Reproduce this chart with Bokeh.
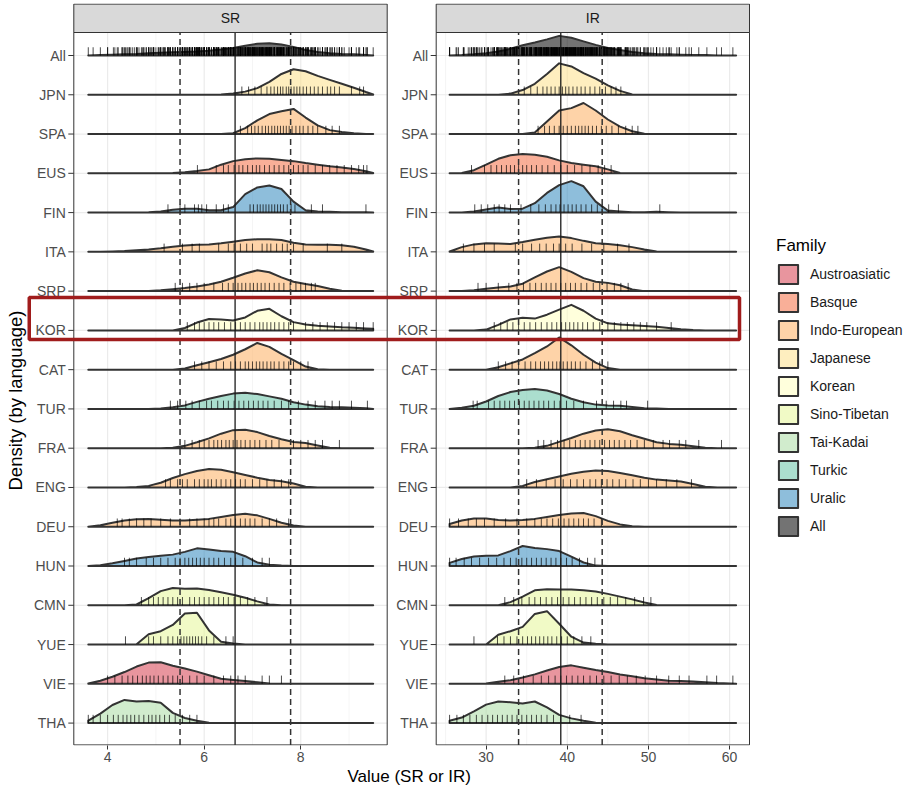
import numpy as np
from bokeh.plotting import figure
from bokeh.models import Range1d, FixedTicker, Legend, LegendItem, CustomJSTickFormatter, Title
from bokeh.core.properties import value
from bokeh.embed import file_html
from bokeh.resources import INLINE

# ---------------- data ----------------
LANGS = ["All", "JPN", "SPA", "EUS", "FIN", "ITA", "SRP", "KOR", "CAT",
         "TUR", "FRA", "ENG", "DEU", "HUN", "CMN", "YUE", "VIE", "THA"]
FAMILY_OF = ["All", "Japanese", "Indo-European", "Basque", "Uralic", "Indo-European",
             "Indo-European", "Korean", "Indo-European", "Turkic", "Indo-European",
             "Indo-European", "Indo-European", "Uralic", "Sino-Tibetan", "Sino-Tibetan",
             "Austroasiatic", "Tai-Kadai"]
FAMILIES = ["Austroasiatic", "Basque", "Indo-European", "Japanese", "Korean",
            "Sino-Tibetan", "Tai-Kadai", "Turkic", "Uralic", "All"]
FAMILY_COLORS = ["#D53E4F", "#F46D43", "#FDAE61", "#FEE08B", "#FFFFBF",
                 "#E6F598", "#ABDDA4", "#66C2A5", "#3288BD", "#000000"]
PANELS = ["SR", "IR"]

SR_X = [3.6, 3.85, 4.1, 4.35, 4.6, 4.85, 5.1, 5.35, 5.6, 5.85, 6.1, 6.35, 6.6,
        6.85, 7.1, 7.35, 7.6, 7.85, 8.1, 8.35, 8.6, 8.85, 9.1, 9.35, 9.5]
IR_X = [25.5, 27, 28.5, 30, 31.5, 33, 34.5, 36, 37.5, 39, 40.5, 42, 43.5, 45,
        46.5, 48, 49.5, 51, 52.5, 54, 55.5, 57, 58.5, 60, 60.8]

# density heights (in row units) on SR_X
ALL_SR_D = [0.0, 0.01, 0.02, 0.03, 0.04, 0.06, 0.07, 0.08, 0.09, 0.10, 0.12, 0.15, 0.19, 0.25, 0.30, 0.31, 0.28, 0.22, 0.14, 0.09, 0.06, 0.04, 0.03, 0.01, 0.0]
JPN_SR_D = [0, 0, 0, 0, 0, 0, 0, 0, 0, 0, 0.0, 0.01, 0.03, 0.08, 0.17, 0.33, 0.53, 0.65, 0.60, 0.48, 0.38, 0.28, 0.18, 0.07, 0.01]
SPA_SR_D = [0, 0, 0, 0, 0, 0, 0, 0, 0, 0, 0, 0.0, 0.02, 0.15, 0.35, 0.51, 0.58, 0.64, 0.42, 0.22, 0.10, 0.05, 0.02, 0.0, 0.0]
EUS_SR_D = [0, 0, 0, 0, 0, 0, 0.0, 0.01, 0.03, 0.06, 0.10, 0.22, 0.31, 0.36, 0.38, 0.37, 0.34, 0.31, 0.26, 0.22, 0.18, 0.15, 0.11, 0.05, 0.01]
FIN_SR_D = [0, 0, 0, 0.0, 0.0, 0.01, 0.03, 0.07, 0.10, 0.10, 0.06, 0.06, 0.14, 0.47, 0.64, 0.69, 0.60, 0.28, 0.06, 0.03, 0.02, 0.01, 0.01, 0.01, 0.0]
ITA_SR_D = [0.0, 0.0, 0.01, 0.02, 0.04, 0.06, 0.09, 0.13, 0.16, 0.18, 0.19, 0.22, 0.26, 0.30, 0.32, 0.32, 0.30, 0.23, 0.19, 0.18, 0.18, 0.17, 0.13, 0.06, 0.01]
SRP_SR_D = [0, 0, 0, 0, 0, 0.0, 0.02, 0.05, 0.08, 0.12, 0.17, 0.24, 0.34, 0.45, 0.53, 0.48, 0.35, 0.24, 0.18, 0.13, 0.06, 0.01, 0.0, 0.0, 0.0]
KOR_SR_D = [0, 0, 0, 0, 0, 0, 0, 0.0, 0.06, 0.20, 0.29, 0.28, 0.25, 0.33, 0.50, 0.55, 0.36, 0.21, 0.15, 0.12, 0.10, 0.08, 0.07, 0.05, 0.04]
CAT_SR_D = [0, 0, 0, 0, 0, 0, 0, 0.0, 0.03, 0.11, 0.19, 0.27, 0.38, 0.52, 0.68, 0.58, 0.40, 0.24, 0.08, 0.01, 0.0, 0.0, 0.0, 0.0, 0.0]
TUR_SR_D = [0, 0, 0, 0, 0, 0.0, 0.01, 0.04, 0.09, 0.18, 0.26, 0.33, 0.39, 0.41, 0.38, 0.32, 0.26, 0.17, 0.11, 0.07, 0.05, 0.04, 0.03, 0.02, 0.0]
FRA_SR_D = [0, 0, 0, 0, 0, 0, 0.0, 0.01, 0.06, 0.15, 0.25, 0.37, 0.46, 0.47, 0.41, 0.31, 0.23, 0.16, 0.13, 0.07, 0.01, 0.0, 0.0, 0.0, 0.0]
ENG_SR_D = [0, 0, 0, 0.0, 0.01, 0.04, 0.12, 0.24, 0.34, 0.42, 0.47, 0.45, 0.39, 0.32, 0.25, 0.19, 0.16, 0.10, 0.02, 0.0, 0, 0, 0, 0, 0]
DEU_SR_D = [0.0, 0.04, 0.10, 0.16, 0.19, 0.20, 0.18, 0.16, 0.16, 0.18, 0.20, 0.25, 0.30, 0.33, 0.29, 0.20, 0.10, 0.03, 0.0, 0, 0, 0, 0, 0, 0]
HUN_SR_D = [0.0, 0.02, 0.07, 0.13, 0.19, 0.23, 0.26, 0.29, 0.36, 0.45, 0.42, 0.38, 0.36, 0.25, 0.09, 0.03, 0.01, 0.0, 0, 0, 0, 0, 0, 0, 0]
CMN_SR_D = [0, 0, 0, 0, 0.02, 0.18, 0.36, 0.44, 0.42, 0.43, 0.39, 0.33, 0.27, 0.19, 0.10, 0.02, 0.0, 0, 0, 0, 0, 0, 0, 0, 0]
YUE_SR_D = [0, 0, 0, 0, 0.01, 0.26, 0.34, 0.50, 0.79, 0.81, 0.36, 0.07, 0.03, 0.0, 0, 0, 0, 0, 0, 0, 0, 0, 0, 0, 0]
VIE_SR_D = [0.01, 0.08, 0.18, 0.30, 0.44, 0.54, 0.55, 0.46, 0.39, 0.31, 0.22, 0.13, 0.10, 0.07, 0.04, 0.01, 0.0, 0, 0, 0, 0, 0, 0, 0, 0]
THA_SR_D = [0.06, 0.24, 0.46, 0.59, 0.55, 0.56, 0.52, 0.26, 0.13, 0.06, 0.01, 0.0, 0, 0, 0, 0, 0, 0, 0, 0, 0, 0, 0, 0, 0]

# density heights (in row units) on IR_X
ALL_IR_D = [0.0, 0.01, 0.03, 0.06, 0.10, 0.17, 0.26, 0.33, 0.41, 0.50, 0.45, 0.36, 0.27, 0.19, 0.14, 0.09, 0.06, 0.04, 0.03, 0.02, 0.01, 0.01, 0.0, 0.0, 0.0]
JPN_IR_D = [0, 0, 0, 0, 0.0, 0.03, 0.12, 0.28, 0.53, 0.80, 0.72, 0.55, 0.41, 0.24, 0.10, 0.01, 0.0, 0, 0, 0, 0, 0, 0, 0, 0]
SPA_IR_D = [0, 0, 0, 0, 0, 0, 0.0, 0.04, 0.32, 0.60, 0.66, 0.79, 0.60, 0.37, 0.19, 0.07, 0.01, 0.0, 0, 0, 0, 0, 0, 0, 0]
EUS_IR_D = [0.0, 0.01, 0.08, 0.22, 0.37, 0.46, 0.49, 0.47, 0.42, 0.33, 0.26, 0.22, 0.18, 0.10, 0.01, 0.0, 0, 0, 0, 0, 0, 0, 0, 0, 0]
FIN_IR_D = [0.0, 0.0, 0.03, 0.08, 0.13, 0.09, 0.10, 0.24, 0.50, 0.70, 0.80, 0.67, 0.28, 0.05, 0.03, 0.01, 0.01, 0.02, 0.01, 0.0, 0, 0, 0, 0, 0]
ITA_IR_D = [0.01, 0.12, 0.19, 0.22, 0.21, 0.20, 0.25, 0.31, 0.36, 0.39, 0.35, 0.28, 0.22, 0.20, 0.17, 0.12, 0.06, 0.01, 0.0, 0, 0, 0, 0, 0, 0]
SRP_IR_D = [0.0, 0.0, 0.02, 0.06, 0.09, 0.12, 0.19, 0.35, 0.50, 0.61, 0.49, 0.33, 0.24, 0.21, 0.15, 0.04, 0.0, 0, 0, 0, 0, 0, 0, 0, 0]
KOR_IR_D = [0, 0, 0.0, 0.02, 0.14, 0.28, 0.32, 0.30, 0.40, 0.53, 0.65, 0.50, 0.30, 0.18, 0.15, 0.13, 0.11, 0.09, 0.06, 0.03, 0.01, 0.0, 0, 0, 0]
CAT_IR_D = [0, 0, 0, 0.0, 0.06, 0.16, 0.26, 0.42, 0.59, 0.82, 0.62, 0.38, 0.18, 0.04, 0.0, 0, 0, 0, 0, 0, 0, 0, 0, 0, 0]
TUR_IR_D = [0.0, 0.03, 0.08, 0.19, 0.33, 0.43, 0.48, 0.51, 0.47, 0.38, 0.26, 0.17, 0.11, 0.09, 0.08, 0.05, 0.02, 0.01, 0.0, 0, 0, 0, 0, 0, 0]
FRA_IR_D = [0, 0, 0, 0, 0, 0, 0.0, 0.01, 0.06, 0.16, 0.26, 0.37, 0.45, 0.48, 0.43, 0.33, 0.24, 0.15, 0.11, 0.09, 0.05, 0.01, 0.0, 0, 0]
ENG_IR_D = [0, 0, 0, 0, 0, 0.0, 0.04, 0.14, 0.21, 0.28, 0.35, 0.40, 0.43, 0.42, 0.37, 0.31, 0.25, 0.20, 0.18, 0.15, 0.09, 0.02, 0.0, 0, 0]
DEU_IR_D = [0.07, 0.16, 0.21, 0.21, 0.17, 0.16, 0.17, 0.20, 0.25, 0.30, 0.34, 0.35, 0.27, 0.15, 0.06, 0.01, 0.0, 0, 0, 0, 0, 0, 0, 0, 0]
HUN_IR_D = [0.08, 0.18, 0.24, 0.26, 0.27, 0.38, 0.51, 0.46, 0.43, 0.38, 0.24, 0.09, 0.01, 0.0, 0, 0, 0, 0, 0, 0, 0, 0, 0, 0, 0]
CMN_IR_D = [0, 0, 0, 0, 0.0, 0.08, 0.22, 0.38, 0.41, 0.40, 0.40, 0.38, 0.35, 0.29, 0.22, 0.15, 0.07, 0.01, 0.0, 0, 0, 0, 0, 0, 0]
YUE_IR_D = [0, 0, 0, 0.0, 0.25, 0.34, 0.45, 0.78, 0.85, 0.53, 0.20, 0.05, 0.02, 0.0, 0, 0, 0, 0, 0, 0, 0, 0, 0, 0, 0]
VIE_IR_D = [0, 0, 0.0, 0.01, 0.05, 0.09, 0.16, 0.24, 0.34, 0.43, 0.47, 0.41, 0.35, 0.30, 0.24, 0.19, 0.14, 0.11, 0.08, 0.07, 0.06, 0.04, 0.02, 0.01, 0.0]
THA_IR_D = [0.06, 0.14, 0.30, 0.47, 0.55, 0.53, 0.50, 0.55, 0.40, 0.21, 0.12, 0.06, 0.01, 0.0, 0, 0, 0, 0, 0, 0, 0, 0, 0, 0, 0]

# rug observations (SR)
JPN_SR = [6.78, 6.92, 7.05, 7.18, 7.3, 7.38, 7.45, 7.52, 7.58, 7.63, 7.7, 7.75, 7.8, 7.86, 7.92, 7.98, 8.05, 8.12, 8.2, 8.28, 8.36, 8.45, 8.55, 8.62, 8.7, 8.8, 9.05, 9.22, 9.3]
SPA_SR = [6.75, 6.9, 6.98, 7.05, 7.12, 7.2, 7.27, 7.33, 7.4, 7.46, 7.52, 7.58, 7.64, 7.7, 7.76, 7.82, 7.9, 7.98, 8.05, 8.15, 8.25, 8.35, 8.52, 8.65, 8.8]
EUS_SR = [5.86, 6.25, 6.4, 6.5, 6.62, 6.72, 6.8, 6.9, 7.0, 7.08, 7.15, 7.25, 7.35, 7.45, 7.55, 7.65, 7.75, 7.85, 7.95, 8.05, 8.15, 8.3, 8.45, 8.6, 8.75, 8.9, 9.05, 9.2, 9.3, 9.37]
FIN_SR = [5.25, 5.5, 5.6, 5.8, 5.88, 5.95, 6.05, 6.25, 6.4, 6.5, 6.95, 7.02, 7.1, 7.16, 7.22, 7.28, 7.34, 7.4, 7.46, 7.52, 7.58, 7.64, 7.72, 7.8, 7.88, 8.22, 8.45, 9.35]
ITA_SR = [5.17, 5.55, 5.75, 5.9, 6.3, 6.5, 6.62, 6.75, 6.88, 7.0, 7.2, 7.3, 7.38, 7.5, 7.62, 7.72, 7.85, 8.05, 8.55, 8.85]
SRP_SR = [5.4, 5.55, 5.7, 5.85, 6.0, 6.2, 6.38, 6.5, 6.6, 6.7, 6.78, 6.86, 6.95, 7.02, 7.1, 7.18, 7.26, 7.35, 7.45, 7.55, 7.65, 7.78, 7.9, 8.0, 8.1, 8.22, 8.3]
KOR_SR = [5.65, 5.8, 5.9, 6.0, 6.1, 6.2, 6.3, 6.42, 6.55, 6.65, 6.75, 6.85, 6.95, 7.05, 7.15, 7.22, 7.3, 7.38, 7.46, 7.55, 7.65, 7.75, 7.85, 8.1, 8.25, 8.4, 8.55, 8.7, 8.85, 9.0, 9.15, 9.3, 9.5]
CAT_SR = [5.8, 5.95, 6.1, 6.25, 6.4, 6.55, 6.65, 6.75, 6.85, 6.92, 7.0, 7.08, 7.15, 7.22, 7.3, 7.38, 7.45, 7.55, 7.65, 7.75, 7.85, 8.0, 8.15]
TUR_SR = [5.3, 5.45, 5.62, 5.75, 5.9, 6.05, 6.15, 6.28, 6.4, 6.5, 6.62, 6.72, 6.82, 6.92, 7.02, 7.12, 7.22, 7.32, 7.45, 7.6, 7.75, 7.95, 8.15, 8.3, 8.5, 8.65, 8.8, 9.05, 9.38]
FRA_SR = [5.6, 5.75, 5.9, 6.0, 6.1, 6.2, 6.28, 6.36, 6.45, 6.52, 6.6, 6.68, 6.76, 6.85, 6.95, 7.05, 7.15, 7.28, 7.4, 7.55, 7.85, 8.0, 8.15, 8.3, 8.45, 8.8]
ENG_SR = [5.2, 5.3, 5.45, 5.55, 5.65, 5.8, 5.9, 6.0, 6.08, 6.15, 6.25, 6.35, 6.45, 6.55, 6.65, 6.75, 6.85, 7.0, 7.15, 7.3, 7.45, 7.6, 7.75]
DEU_SR = [4.2, 4.3, 4.45, 4.6, 4.75, 4.9, 5.1, 5.3, 5.5, 5.7, 5.85, 6.0, 6.1, 6.2, 6.3, 6.45, 6.55, 6.65, 6.75, 6.85, 6.95, 7.05, 7.2, 7.35, 7.5, 7.75]
HUN_SR = [4.35, 4.45, 4.6, 4.8, 4.95, 5.1, 5.25, 5.4, 5.5, 5.6, 5.68, 5.76, 5.84, 5.92, 6.0, 6.1, 6.2, 6.3, 6.42, 6.55, 6.65, 6.8, 7.0, 7.2, 7.35]
CMN_SR = [4.7, 4.85, 4.95, 5.05, 5.15, 5.25, 5.35, 5.45, 5.55, 5.7, 5.8, 5.9, 6.0, 6.1, 6.2, 6.3, 6.4, 6.5, 6.62, 6.75, 6.9, 7.05, 7.3]
YUE_SR = [4.37, 4.85, 4.95, 5.1, 5.25, 5.35, 5.45, 5.52, 5.58, 5.64, 5.7, 5.76, 5.82, 5.88, 5.95, 6.05, 6.2, 6.45, 6.6]
VIE_SR = [4.0, 4.15, 4.3, 4.42, 4.52, 4.62, 4.72, 4.8, 4.88, 4.96, 5.05, 5.15, 5.25, 5.35, 5.45, 5.55, 5.7, 5.85, 6.0, 6.2, 6.4, 6.55, 6.7, 6.85, 7.2, 7.35, 7.6]
THA_SR = [3.6, 3.7, 3.85, 4.0, 4.12, 4.22, 4.32, 4.4, 4.48, 4.56, 4.65, 4.75, 4.85, 4.92, 5.0, 5.08, 5.18, 5.28, 5.4, 5.55, 5.7, 5.85]

# rug observations (IR)
JPN_IR = [34.7, 35.5, 36.3, 37.0, 37.5, 38.0, 38.5, 39.0, 39.4, 39.8, 40.2, 40.7, 41.2, 41.7, 42.2, 42.8, 43.4, 44.0, 44.7, 45.4, 46.0, 46.6]
SPA_IR = [36.4, 37.2, 37.8, 38.4, 39.0, 39.5, 40.0, 40.5, 41.0, 41.4, 41.8, 42.2, 42.6, 43.1, 43.6, 44.2, 44.8, 45.5, 46.3, 47.2, 48.0, 48.7]
EUS_IR = [28.2, 29.8, 30.6, 31.3, 31.9, 32.5, 33.0, 33.5, 34.0, 34.5, 35.0, 35.6, 36.2, 36.9, 37.6, 38.4, 39.2, 40.0, 40.9, 41.8, 42.8, 43.8, 44.6, 45.4]
FIN_IR = [28.6, 29.4, 30.2, 31.0, 31.6, 32.3, 33.0, 34.3, 35.5, 36.5, 37.3, 38.0, 38.6, 39.1, 39.6, 40.1, 40.6, 41.1, 41.7, 42.3, 43.0, 43.7, 44.3, 45.1, 46.3, 51.4]
ITA_IR = [27.2, 28.5, 29.8, 31.0, 33.6, 34.5, 35.6, 36.6, 37.4, 38.3, 39.0, 39.8, 40.6, 41.8, 43.0, 44.5, 46.2, 47.6]
SRP_IR = [29.0, 30.0, 31.5, 32.8, 33.8, 34.6, 35.4, 36.1, 36.8, 37.4, 38.0, 38.6, 39.2, 39.8, 40.4, 41.0, 41.7, 42.4, 43.2, 44.0, 44.9, 45.8, 46.6, 47.5]
KOR_IR = [31.0, 31.8, 32.6, 33.3, 34.0, 34.7, 35.4, 36.1, 36.8, 37.5, 38.1, 38.7, 39.3, 39.8, 40.3, 40.8, 41.3, 41.9, 42.5, 43.2, 44.0, 45.0, 45.8, 46.6, 47.4, 48.2, 49.0, 49.8, 51.0, 52.8]
CAT_IR = [31.5, 32.4, 33.2, 34.0, 34.8, 35.5, 36.1, 36.7, 37.2, 37.7, 38.2, 38.7, 39.1, 39.5, 40.0, 40.5, 41.0, 41.6, 42.3, 43.1, 44.0, 45.0]
TUR_IR = [28.4, 28.9, 30.3, 31.0, 31.7, 32.3, 32.9, 33.5, 34.1, 34.7, 35.3, 35.9, 36.5, 37.1, 37.7, 38.4, 39.1, 39.9, 40.8, 42.0, 43.6, 44.8, 45.7, 46.6, 47.3, 49.9]
FRA_IR = [36.4, 37.1, 38.0, 38.8, 39.6, 40.3, 41.0, 41.6, 42.2, 42.8, 43.4, 44.0, 44.6, 45.2, 45.8, 46.4, 47.1, 47.8, 48.6, 49.5, 50.6, 51.8, 52.6, 53.8, 54.6, 56.2, 59.0]
ENG_IR = [35.0, 36.2, 37.4, 38.5, 39.5, 40.4, 41.2, 42.0, 42.8, 43.5, 44.2, 44.9, 45.6, 46.4, 47.2, 48.1, 49.0, 50.0, 51.0, 52.2, 53.5, 55.3]
DEU_IR = [25.5, 26.6, 27.8, 28.8, 29.8, 31.0, 32.4, 33.8, 35.0, 36.0, 36.8, 37.5, 38.2, 38.9, 39.6, 40.2, 40.8, 41.4, 42.0, 42.6, 43.3, 44.2]
HUN_IR = [25.5, 26.3, 27.3, 28.2, 29.2, 30.3, 31.3, 32.2, 33.0, 33.7, 34.4, 35.0, 35.6, 36.2, 36.8, 37.4, 38.0, 38.6, 39.2, 39.9, 40.6, 41.5, 42.5, 43.4]
CMN_IR = [32.3, 33.4, 34.4, 35.3, 36.0, 36.7, 37.4, 38.1, 38.8, 39.5, 40.2, 40.9, 41.6, 42.3, 43.0, 43.7, 44.5, 45.3, 46.2, 47.2, 48.3, 49.4, 50.3]
YUE_IR = [28.5, 31.4, 32.2, 33.0, 33.8, 34.5, 35.1, 35.6, 36.1, 36.6, 37.1, 37.6, 38.1, 38.7, 39.3, 40.0, 40.8, 41.8, 42.9]
VIE_IR = [32.3, 33.4, 34.6, 35.8, 36.8, 37.7, 38.5, 39.2, 39.9, 40.6, 41.3, 42.0, 42.8, 43.6, 44.5, 45.4, 46.4, 47.4, 48.5, 49.6, 51.0, 52.5, 53.8, 55.0, 57.2, 58.4, 60.4]
THA_IR = [25.5, 26.4, 27.2, 28.0, 28.8, 29.5, 30.2, 30.8, 31.4, 32.0, 32.6, 33.2, 33.8, 34.4, 35.0, 35.6, 36.2, 36.8, 37.5, 38.3, 39.2, 40.3, 41.7]

# reference lines: mean - sd, mean, mean + sd
SR_STATS = [5.50, 6.64, 7.79]
IR_STATS = [34.0, 39.2, 44.3]

SR_TICKS = [4, 6, 8]
SR_MINOR = [5, 7, 9]
IR_TICKS = [30, 40, 50, 60]
IR_MINOR = [25, 35, 45, 55]
HIGHLIGHT = "KOR"

SR_DENS = [ALL_SR_D, JPN_SR_D, SPA_SR_D, EUS_SR_D, FIN_SR_D, ITA_SR_D, SRP_SR_D, KOR_SR_D, CAT_SR_D,
           TUR_SR_D, FRA_SR_D, ENG_SR_D, DEU_SR_D, HUN_SR_D, CMN_SR_D, YUE_SR_D, VIE_SR_D, THA_SR_D]
IR_DENS = [ALL_IR_D, JPN_IR_D, SPA_IR_D, EUS_IR_D, FIN_IR_D, ITA_IR_D, SRP_IR_D, KOR_IR_D, CAT_IR_D,
           TUR_IR_D, FRA_IR_D, ENG_IR_D, DEU_IR_D, HUN_IR_D, CMN_IR_D, YUE_IR_D, VIE_IR_D, THA_IR_D]
SR_RUGS = [JPN_SR, SPA_SR, EUS_SR, FIN_SR, ITA_SR, SRP_SR, KOR_SR, CAT_SR, TUR_SR,
           FRA_SR, ENG_SR, DEU_SR, HUN_SR, CMN_SR, YUE_SR, VIE_SR, THA_SR]
IR_RUGS = [JPN_IR, SPA_IR, EUS_IR, FIN_IR, ITA_IR, SRP_IR, KOR_IR, CAT_IR, TUR_IR,
           FRA_IR, ENG_IR, DEU_IR, HUN_IR, CMN_IR, YUE_IR, VIE_IR, THA_IR]
SR_RUGS = [sum(SR_RUGS, [])] + SR_RUGS   # "All" = every observation
IR_RUGS = [sum(IR_RUGS, [])] + IR_RUGS

# ---------------- layout ----------------
FONT = "Liberation Sans"
W, H = 916, 792
BL, BR, BT, BB = 26, 4, 3, 47          # borders around the frame
FRAME_W, FRAME_H = W - BL - BR, H - BT - BB
ROW_PX = 39.27
TOP_BASE_PX = 52.0           # baseline of first row, px below frame top
PANEL_TOP_PX = 29.0          # panel top (strip bottom), px below frame top
n = len(LANGS)
bottom_base_px = TOP_BASE_PX + (n - 1) * ROW_PX
y0 = -(FRAME_H - bottom_base_px) / ROW_PX
y1 = bottom_base_px / ROW_PX
panel_top = (n - 1) + (TOP_BASE_PX - PANEL_TOP_PX) / ROW_PX
panel_bot = y0 + 0.015

SR_PANEL = (3.30, 9.79)
SR_PANEL_PX = (47.3, 360.7)
IR_PANEL = (23.85, 62.45)
IR_PANEL_PX = (409.7, 723.0)


def span(lim, px):
    upp = (lim[1] - lim[0]) / (px[1] - px[0])
    return lim[0] - px[0] * upp, lim[0] + (FRAME_W - px[0]) * upp, upp


sr0, sr1, sr_upp = span(SR_PANEL, SR_PANEL_PX)
ir0, ir1, ir_upp = span(IR_PANEL, IR_PANEL_PX)

p = figure(width=W, height=H,
           x_range=Range1d(sr0, sr1), y_range=Range1d(y0, y1),
           output_backend="svg", toolbar_location=None, y_axis_location=None,
           min_border_left=BL, min_border_right=BR, min_border_top=BT, min_border_bottom=BB,
           background_fill_color="white", border_fill_color="white")
p.extra_x_ranges = {"ir": Range1d(ir0, ir1)}
p.outline_line_color = None
p.xgrid.visible = False
p.ygrid.visible = False

rows = [n - 1 - i for i in range(n)]
fam_color = dict(zip(FAMILIES, FAMILY_COLORS))

panel_defs = [
    ("default", SR_PANEL, SR_MINOR, SR_TICKS, SR_X, SR_DENS, SR_RUGS, SR_STATS),
    ("ir", IR_PANEL, IR_MINOR, IR_TICKS, IR_X, IR_DENS, IR_RUGS, IR_STATS),
]

# grid
for rn, lim, minor, major, *_ in panel_defs:
    p.segment(x0=minor, y0=[panel_bot] * len(minor), x1=minor, y1=[panel_top] * len(minor),
              line_color="#F2F2F2", line_width=0.8, x_range_name=rn)
    p.segment(x0=major, y0=[panel_bot] * len(major), x1=major, y1=[panel_top] * len(major),
              line_color="#EBEBEB", line_width=1.2, x_range_name=rn)
    p.segment(x0=[lim[0]] * n, y0=rows, x1=[lim[1]] * n, y1=rows,
              line_color="#EBEBEB", line_width=1.2, x_range_name=rn)

# ridges + rugs
legend_r = {}
RUG_H = 0.21
for i, lang in enumerate(LANGS):
    base = rows[i]
    col = fam_color[FAMILY_OF[i]]
    for rn, lim, minor, major, xs, dens, rugs, stats in panel_defs:
        d = dens[i]
        px = list(xs) + [xs[-1], xs[0]]
        py = [base + v for v in d] + [base, base]
        r = p.patch(px, py, fill_color=col, fill_alpha=0.55, line_color="#333333",
                    line_width=2, line_join="round", x_range_name=rn)
        legend_r.setdefault(FAMILY_OF[i], r)
        rug = rugs[i]
        p.segment(x0=rug, y0=[base] * len(rug), x1=rug, y1=[base + RUG_H] * len(rug),
                  line_color="black", line_alpha=0.7, line_width=1, x_range_name=rn)

# reference lines
for rn, lim, minor, major, xs, dens, rugs, stats in panel_defs:
    p.segment(x0=[stats[0], stats[2]], y0=[panel_bot] * 2, x1=[stats[0], stats[2]], y1=[panel_top] * 2,
              line_color="#333333", line_width=1.5, line_dash="6 4", x_range_name=rn)
    p.segment(x0=[stats[1]], y0=[panel_bot], x1=[stats[1]], y1=[panel_top],
              line_color="#1A1A1A", line_width=1.3, x_range_name=rn)

# panel borders, strips, y labels
for (rn, lim, *_), name in zip(panel_defs, PANELS):
    p.quad(left=[lim[0]], right=[lim[1]], bottom=[panel_bot], top=[panel_top],
           fill_color=None, line_color="#333333", line_width=1, x_range_name=rn)
    p.quad(left=[lim[0]], right=[lim[1]], bottom=[panel_top], top=[y1 - 0.015],
           fill_color="#D9D9D9", line_color="#333333", line_width=1, x_range_name=rn)
    p.text(x=[(lim[0] + lim[1]) / 2], y=[(panel_top + y1) / 2], text=[name],
           text_align="center", text_baseline="middle", text_font=value(FONT),
           text_font_size="14px", text_color="#1A1A1A", x_range_name=rn)
    p.text(x=[lim[0]] * n, y=rows, text=LANGS, x_offset=-8,
           text_align="right", text_baseline="middle", text_font=value(FONT),
           text_font_size="14px", text_color="#4D4D4D", x_range_name=rn)
    p.ray(x=[lim[0]] * n, y=rows, length=5.5, length_units="screen", angle=np.pi,
          line_color="#333333", line_width=1, x_range_name=rn)

# highlight box around the KOR row
k = rows[LANGS.index(HIGHLIGHT)]
p.quad(left=[sr0 + 2.75 * sr_upp], right=[sr0 + 713.0 * sr_upp],
       bottom=[k - 0.23], top=[k + 0.84], fill_color=None,
       line_color="#A01C1C", line_width=3.5)

# x axis (ticks for both panels)
a = (ir1 - ir0) / (sr1 - sr0)
b = ir0 - a * sr0
cut = (SR_PANEL[1] + sr0 + IR_PANEL_PX[0] * sr_upp) / 2
ticks = list(SR_TICKS) + [(v - b) / a for v in IR_TICKS]
xa = p.xaxis[0]
xa.ticker = FixedTicker(ticks=ticks, minor_ticks=[])
xa.formatter = CustomJSTickFormatter(
    code=f"return tick < {cut} ? tick.toFixed(0) : ({a} * tick + {b}).toFixed(0);")
xa.axis_line_color = None
xa.major_tick_line_color = "#333333"
xa.major_tick_out = 4
xa.major_tick_in = 0
xa.minor_tick_line_color = None
xa.major_label_standoff = 2
xa.major_label_text_font = FONT
xa.major_label_text_font_size = "14px"
xa.major_label_text_color = "#4D4D4D"

# axis titles (positioned like the shared facet titles)
x_title = Title(text="Value (SR or IR)", align="left", offset=321, standoff=0,
                text_font=FONT, text_font_size="17px", text_font_style="normal",
                text_color="#000000")
p.add_layout(x_title, "below")
y_title = Title(text="Density (by language)", align="left", offset=255, standoff=0,
                text_font=FONT, text_font_size="18.5px", text_font_style="normal",
                text_color="#000000", vertical_align="middle")
p.add_layout(y_title, "left")

# legend (inside the wide frame, to the right of the panels)
items = [LegendItem(label=f, renderers=[legend_r[f]]) for f in FAMILIES]
legend = Legend(items=items, location=(750, 207), title="Family",
                title_text_font=FONT, title_text_font_size="17px", title_text_font_style="normal",
                title_text_color="#000000", title_standoff=6,
                label_text_font=FONT, label_text_font_size="14px", label_text_color="#1A1A1A",
                glyph_width=24, glyph_height=24, label_height=24, label_standoff=10,
                spacing=4, padding=0, margin=0, border_line_color=None,
                background_fill_alpha=0)
p.add_layout(legend)

html = file_html(p, INLINE, "plot")
open("out.html", "w").write(html)
